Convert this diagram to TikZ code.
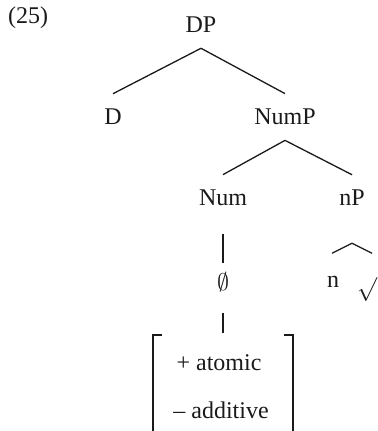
\documentclass[tikz,border=0pt]{standalone}
\usepackage{fontspec}
\setmainfont{Liberation Serif}
\usetikzlibrary{positioning}
\definecolor{treeink}{HTML}{1A1A1A}

\begin{document}
\begin{tikzpicture}[
  x=0.5pt,
  y=-0.5pt,
  every node/.style={font=\fontsize{12}{14}\selectfont, treeink},
  cat/.style={inner xsep=0pt, inner ysep=7.5pt},
  leaf/.style={inner sep=0pt},
  branch/.style={treeink, line width=0.65pt},
  bracketline/.style={treeink, line width=0.8pt}
]
  % ---- page frame -----------------------------------------------------
  \useasboundingbox (0,0) rectangle (377,431);

  % ---- example number -------------------------------------------------
  \node[leaf] (exno) at (28,18) {(25)};

  % ---- the categories -------------------------------------------------
  \node[cat] (DP)   at (201,25)  {DP};
  \node[cat] (D)    at (113,117) {D};
  \node[cat] (NumP) at (285,117) {NumP};
  \node[cat] (Num)  at (223,198) {Num};
  \node[cat] (nP)   at (352,198) {nP};

  % ---- the leaves -----------------------------------------------------
  \node[leaf] (null) at (223,282) {$\emptyset$};
  \node[leaf] (n)    at (333,282) {n};
  \node[leaf] (root) at (367,290) {$\surd$};

  % ---- the features of Num --------------------------------------------
  \node[leaf] (atomic)   at (219,363) {+ atomic};
  \node[leaf] (additive) at (221,410) {– additive};

  % ---- branches ---------------------------------------------------------
  \draw[branch] (DP.south) -- (D.north);
  \draw[branch] (DP.south) -- (NumP.north);
  \draw[branch] (NumP.south) -- (Num.north);
  \draw[branch] (NumP.south) -- (nP.north);

  % ---- Num down to its exponent and on to the feature matrix ----------
  \draw[branch] ([yshift=-6.5pt]Num.south) -- ([yshift=4.5pt]null.north);
  \draw[branch] ([yshift=-10.5pt]null.south) -- ([yshift=11pt]atomic.north -| null.south);

  % ---- the roof over the inside of nP ---------------------------------
  \draw[branch] ([xshift=-10pt,yshift=-16pt]nP.south)
    -- ([yshift=-11pt]nP.south)
    -- ([xshift=10pt,yshift=-16pt]nP.south);

  % ---- brackets of the matrix, cut off by the page ---------------------
  \draw[bracketline] (162,335) -- (153,335) -- (153,431);
  \draw[bracketline] (284,335) -- (293,335) -- (293,431);

\end{tikzpicture}
\end{document}
